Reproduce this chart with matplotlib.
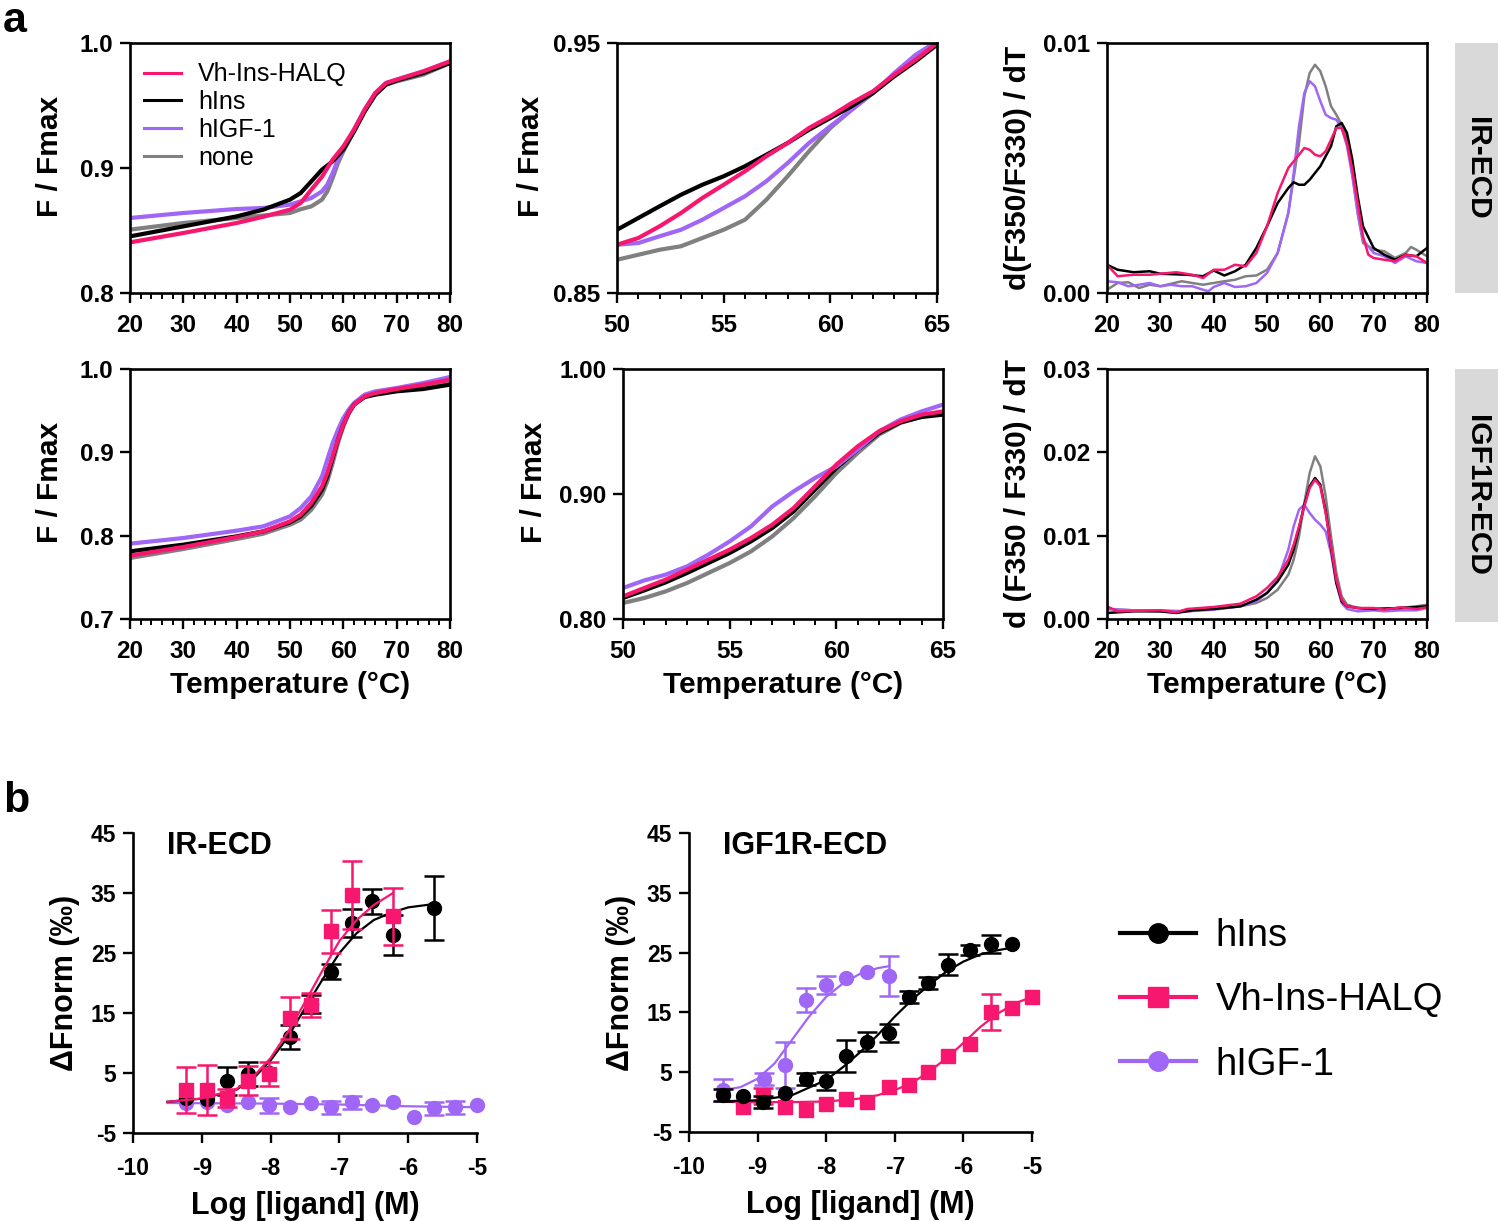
import matplotlib
matplotlib.use('Agg')
import matplotlib.pyplot as plt
from matplotlib.lines import Line2D
from matplotlib.patches import Rectangle
from matplotlib.ticker import MultipleLocator, FixedLocator, FormatStrFormatter

plt.rcParams['font.family'] = ['Liberation Sans', 'DejaVu Sans']
plt.rcParams['font.weight'] = 'bold'
plt.rcParams['axes.labelweight'] = 'bold'
plt.rcParams['axes.unicode_minus'] = False

PINK = '#F8176E'
PURPLE = '#A066F6'
GRAY = '#808080'
BLACK = '#000000'

# ---------------- panel a, IR-ECD, full melt (20-80 C) ----------------
ir_full_T = [20, 30, 40, 45, 50, 52, 54, 56, 57, 58, 59, 60, 62, 64, 66, 68, 70, 75, 80]
ir_full_halq = [0.8405, 0.848, 0.856, 0.861, 0.8667, 0.872, 0.8827, 0.893, 0.900, 0.9067, 0.912, 0.9173, 0.9307, 0.9467, 0.960, 0.968, 0.9707, 0.9773, 0.9853]
ir_full_hins = [0.8453, 0.8533, 0.8613, 0.8667, 0.8747, 0.880, 0.8893, 0.8987, 0.902, 0.9053, 0.910, 0.9147, 0.9293, 0.9453, 0.9587, 0.9667, 0.970, 0.976, 0.984]
ir_full_igf = [0.860, 0.864, 0.8672, 0.868, 0.8707, 0.8733, 0.876, 0.8813, 0.8867, 0.896, 0.9067, 0.9147, 0.9307, 0.9467, 0.960, 0.968, 0.9707, 0.9773, 0.9853]
ir_full_none = [0.8507, 0.856, 0.860, 0.862, 0.864, 0.8670, 0.8693, 0.8747, 0.8813, 0.892, 0.904, 0.9133, 0.9293, 0.9453, 0.9587, 0.9667, 0.9693, 0.9747, 0.984]

# ---------------- panel a, IR-ECD, zoom (50-65 C) ----------------
ir_zoom_T = [50, 51, 52, 53, 54, 55, 56, 57, 58, 59, 60, 61, 62, 63, 64, 65]
ir_zoom_hins = [0.8753, 0.880, 0.8847, 0.8893, 0.8933, 0.8967, 0.9007, 0.9053, 0.910, 0.9153, 0.920, 0.9247, 0.930, 0.9367, 0.9427, 0.9493]
ir_zoom_halq = [0.8693, 0.872, 0.8767, 0.882, 0.888, 0.8933, 0.8987, 0.9047, 0.910, 0.916, 0.9207, 0.926, 0.9307, 0.9373, 0.9433, 0.950]
ir_zoom_igf = [0.8693, 0.870, 0.8727, 0.8753, 0.8793, 0.884, 0.8887, 0.8947, 0.902, 0.910, 0.9167, 0.9233, 0.930, 0.938, 0.9453, 0.9507]
ir_zoom_none = [0.8633, 0.8653, 0.8673, 0.8687, 0.872, 0.8753, 0.8793, 0.8873, 0.8967, 0.9067, 0.916, 0.9233, 0.930, 0.9373, 0.944, 0.9493]

# ---------------- panel a, IR-ECD, first derivative ----------------
ir_d_T_halq = [20, 22, 25, 28, 30, 33, 36, 38, 40, 42, 44, 46, 48, 50, 52, 54, 56, 57, 58, 59, 60, 61, 62, 63, 64, 65, 66, 67, 68, 69, 70, 72, 74, 76, 78, 80]
ir_d_halq = [0.00113, 0.00067, 0.00073, 0.00073, 0.00077, 0.00083, 0.00073, 0.0006, 0.00093, 0.00093, 0.00113, 0.00107, 0.0016, 0.00267, 0.0040, 0.0050, 0.00553, 0.0058, 0.00573, 0.00553, 0.00547, 0.00567, 0.00613, 0.0066, 0.0066, 0.0060, 0.00493, 0.0036, 0.00227, 0.00153, 0.0014, 0.00133, 0.00127, 0.00153, 0.00147, 0.0012]
ir_d_T_hins = [20, 22, 25, 28, 30, 35, 38, 40, 42, 44, 46, 48, 50, 52, 54, 55, 56, 57, 58, 60, 62, 63, 64, 65, 66, 67, 68, 70, 72, 74, 76, 78, 80]
ir_d_hins = [0.00113, 0.00093, 0.00083, 0.00087, 0.00077, 0.00073, 0.00067, 0.0009, 0.0007, 0.00087, 0.00113, 0.0018, 0.00267, 0.0036, 0.0042, 0.00443, 0.00433, 0.00433, 0.00453, 0.00507, 0.00587, 0.00667, 0.0068, 0.0064, 0.00533, 0.00387, 0.00267, 0.0018, 0.00153, 0.00133, 0.00153, 0.00147, 0.0018]
ir_d_T_none = [20, 22, 24, 26, 28, 30, 32, 34, 36, 38, 40, 42, 44, 46, 48, 50, 52, 54, 56, 57, 58, 59, 60, 61, 62, 63, 64, 65, 66, 67, 68, 70, 72, 74, 76, 77, 78, 80]
ir_d_none = [0.00013, 0.0004, 0.00043, 0.0002, 0.00033, 0.00027, 0.00037, 0.00047, 0.0004, 0.00033, 0.0004, 0.00047, 0.00053, 0.00067, 0.0007, 0.00093, 0.0016, 0.0032, 0.0060, 0.00787, 0.0088, 0.00913, 0.00887, 0.00827, 0.00747, 0.00713, 0.00673, 0.00613, 0.0048, 0.0032, 0.0020, 0.00173, 0.00167, 0.0014, 0.0016, 0.00184, 0.00173, 0.00147]
ir_d_T_igf = [20, 22, 24, 26, 28, 30, 32, 34, 36, 38, 39, 40, 42, 44, 46, 48, 50, 52, 54, 55, 56, 57, 58, 59, 60, 61, 62, 63, 64, 65, 66, 67, 68, 70, 72, 74, 76, 78, 80]
ir_d_igf = [0.00047, 0.00043, 0.00027, 0.00033, 0.0004, 0.00027, 0.00033, 0.00027, 0.00027, 0.00013, 0.00007, 0.00024, 0.0004, 0.00024, 0.00027, 0.0004, 0.0008, 0.0016, 0.0032, 0.0048, 0.00667, 0.0080, 0.00847, 0.00827, 0.00767, 0.00713, 0.0070, 0.00693, 0.0066, 0.00587, 0.00467, 0.0032, 0.00213, 0.0016, 0.00147, 0.0012, 0.00147, 0.00127, 0.0012]

# ---------------- panel a, IGF1R-ECD, full melt ----------------
igf_full_T = [20, 30, 40, 45, 50, 52, 54, 56, 57, 58, 59, 60, 61, 62, 64, 66, 70, 75, 80]
igf_full_igf = [0.7904, 0.7972, 0.806, 0.8112, 0.8232, 0.8332, 0.8472, 0.8712, 0.8912, 0.9112, 0.9272, 0.9412, 0.9512, 0.9592, 0.9692, 0.9732, 0.9772, 0.9832, 0.9904]
igf_full_halq = [0.776, 0.7864, 0.7984, 0.8052, 0.8172, 0.8252, 0.8392, 0.8592, 0.8752, 0.8952, 0.9152, 0.9332, 0.9472, 0.9572, 0.9672, 0.9712, 0.976, 0.9812, 0.9872]
igf_full_hins = [0.7812, 0.7892, 0.7992, 0.8052, 0.816, 0.8232, 0.836, 0.8552, 0.8712, 0.8932, 0.9152, 0.9332, 0.9472, 0.9572, 0.9664, 0.9692, 0.9732, 0.976, 0.9812]
igf_full_none = [0.7732, 0.784, 0.796, 0.8024, 0.8132, 0.8192, 0.8312, 0.8492, 0.8652, 0.8872, 0.9112, 0.9312, 0.9464, 0.9572, 0.9672, 0.9704, 0.9752, 0.980, 0.9852]

# ---------------- panel a, IGF1R-ECD, zoom ----------------
igf_zoom_T = [50, 51, 52, 53, 54, 55, 56, 57, 58, 59, 60, 61, 62, 63, 64, 65]
igf_zoom_igf = [0.8248, 0.8309, 0.8355, 0.8421, 0.8515, 0.8621, 0.8741, 0.8901, 0.9021, 0.9128, 0.9221, 0.9355, 0.9501, 0.9595, 0.9661, 0.9715]
igf_zoom_halq = [0.8181, 0.8248, 0.8315, 0.8395, 0.8475, 0.8555, 0.8648, 0.8755, 0.8888, 0.9061, 0.9235, 0.9381, 0.9501, 0.9581, 0.9635, 0.9661]
igf_zoom_hins = [0.8168, 0.8229, 0.8293, 0.8368, 0.8448, 0.8528, 0.8621, 0.8728, 0.8861, 0.9035, 0.9208, 0.9355, 0.9488, 0.9573, 0.9616, 0.9635]
igf_zoom_none = [0.8128, 0.8168, 0.8221, 0.8288, 0.8368, 0.8448, 0.8541, 0.8661, 0.8808, 0.8981, 0.9168, 0.9328, 0.9475, 0.9568, 0.9621, 0.9648]

# ---------------- panel a, IGF1R-ECD, first derivative ----------------
igf_d_T_halq = [20, 22, 30, 33, 35, 40, 45, 48, 50, 52, 54, 55, 56, 57, 58, 59, 60, 61, 62, 63, 64, 65, 67, 70, 72, 75, 78, 80]
igf_d_halq = [0.00152, 0.00092, 0.00104, 0.0008, 0.0012, 0.00144, 0.00184, 0.00272, 0.00372, 0.00504, 0.00712, 0.00892, 0.01112, 0.01352, 0.01572, 0.01672, 0.01592, 0.01272, 0.00872, 0.00472, 0.00232, 0.00152, 0.00132, 0.00132, 0.00112, 0.0014, 0.0012, 0.0014]
igf_d_T_hins = [20, 25, 30, 33, 36, 40, 45, 48, 50, 52, 54, 55, 56, 57, 58, 59, 60, 61, 62, 63, 64, 65, 67, 70, 75, 80]
igf_d_hins = [0.00072, 0.00092, 0.00092, 0.00072, 0.00104, 0.0012, 0.00152, 0.00232, 0.00312, 0.00452, 0.00652, 0.00832, 0.01092, 0.01372, 0.01592, 0.01692, 0.01612, 0.01292, 0.00852, 0.00432, 0.00212, 0.00152, 0.00132, 0.0012, 0.00132, 0.00152]
igf_d_T_none = [20, 25, 30, 35, 40, 45, 48, 50, 52, 54, 55, 56, 57, 58, 59, 60, 61, 62, 63, 64, 65, 67, 70, 75, 78, 80]
igf_d_none = [0.0012, 0.00104, 0.00104, 0.00092, 0.0012, 0.00152, 0.00192, 0.00252, 0.00352, 0.00532, 0.00712, 0.00992, 0.01392, 0.01752, 0.01952, 0.01832, 0.01472, 0.00992, 0.00552, 0.00272, 0.00172, 0.00132, 0.0012, 0.00132, 0.00152, 0.00172]
igf_d_T_igf = [20, 25, 30, 35, 40, 45, 48, 50, 52, 54, 55, 56, 57, 58, 59, 60, 61, 62, 63, 64, 65, 67, 70, 72, 75, 78, 80]
igf_d_igf = [0.0012, 0.00104, 0.00092, 0.00092, 0.00112, 0.00152, 0.00212, 0.00312, 0.00472, 0.00832, 0.01112, 0.01312, 0.01372, 0.01272, 0.01192, 0.01132, 0.01052, 0.00792, 0.00432, 0.00192, 0.0012, 0.00092, 0.00104, 0.00092, 0.00104, 0.00104, 0.00132]

# ---------------- panel b, IR-ECD (MST) ----------------
b_ir_hins_x = [-9.23, -8.93, -8.63, -8.33, -8.02, -7.72, -7.42, -7.12, -6.82, -6.52, -6.22, -5.62]
b_ir_hins_y = [0.8, 0.7, 3.7, 4.9, 5.0, 11.0, 16.5, 21.9, 30.0, 33.6, 28.0, 32.5]
b_ir_hins_e = [0.0, 0.0, 2.3, 2.0, 0.0, 2.0, 1.5, 1.2, 2.3, 2.1, 3.3, 5.3]
b_ir_halq_x = [-9.23, -8.93, -8.63, -8.33, -8.02, -7.72, -7.42, -7.12, -6.82, -6.22]
b_ir_halq_y = [2.2, 2.2, 0.9, 3.7, 4.9, 14.1, 16.3, 28.6, 34.7, 31.1]
b_ir_halq_e = [3.8, 4.2, 1.5, 2.4, 2.0, 3.5, 2.0, 3.6, 5.7, 4.7]
b_ir_igf_x = [-9.23, -8.93, -8.63, -8.33, -8.02, -7.72, -7.42, -7.12, -6.82, -6.52, -6.22, -5.92, -5.62, -5.32, -5.0]
b_ir_igf_y = [0.0, 0.2, -0.4, 0.1, -0.4, -0.7, 0.0, -0.7, 0.1, -0.3, 0.2, -2.3, -0.9, -0.7, -0.4]
b_ir_igf_e = [0.0, 0.0, 0.0, 0.0, 1.3, 0.0, 0.0, 1.1, 1.1, 0.0, 0.0, 0.0, 1.1, 1.1, 0.0]
fit_ir_hins_x = [-9.5, -9.0, -8.5, -8.25, -8.0, -7.75, -7.5, -7.25, -7.0, -6.75, -6.5, -6.25, -6.0, -5.6]
fit_ir_hins_y = [0.2, 0.73, 2.2, 4.1, 7.1, 11.0, 15.8, 20.5, 25.0, 28.3, 30.5, 31.7, 32.6, 33.2]
fit_ir_halq_x = [-9.5, -9.0, -8.5, -8.25, -8.0, -7.75, -7.5, -7.25, -7.0, -6.75, -6.5, -6.22]
fit_ir_halq_y = [0.2, 0.75, 2.3, 4.4, 7.5, 11.8, 16.8, 22.0, 27.0, 30.5, 33.0, 35.0]
fit_ir_igf_x = [-9.5, -8.0, -7.0, -6.0, -5.0]
fit_ir_igf_y = [0.0, -0.1, -0.25, -0.55, -0.7]

# ---------------- panel b, IGF1R-ECD (MST) ----------------
b_igf_hins_x = [-9.51, -9.22, -8.92, -8.60, -8.30, -8.01, -7.71, -7.41, -7.09, -6.80, -6.51, -6.22, -5.91, -5.60, -5.29]
b_igf_hins_y = [1.15, 1.0, 0.03, 1.54, 3.94, 3.55, 7.68, 10.1, 11.5, 17.5, 19.9, 23.0, 25.4, 26.5, 26.5]
b_igf_hins_e = [1.0, 0.0, 1.0, 0.0, 1.0, 1.5, 2.7, 1.6, 1.5, 1.0, 1.0, 1.8, 0.8, 1.5, 0.0]
b_igf_halq_x = [-9.22, -8.92, -8.60, -8.30, -8.01, -7.71, -7.41, -7.09, -6.80, -6.51, -6.22, -5.91, -5.60, -5.29, -5.0]
b_igf_halq_y = [-0.81, 1.0, -0.8, -1.3, -0.25, 0.59, 0.03, 2.54, 2.93, 5.06, 7.68, 9.64, 15.1, 15.8, 17.5]
b_igf_halq_e = [0.0, 1.3, 0.0, 0.0, 0.0, 0.0, 0.0, 0.0, 0.0, 0.0, 0.0, 0.0, 3.0, 0.0, 0.0]
b_igf_igf_x = [-9.51, -8.91, -8.60, -8.30, -8.01, -7.71, -7.41, -7.09]
b_igf_igf_y = [2.0, 3.94, 6.2, 17.1, 19.6, 20.7, 21.8, 21.1]
b_igf_igf_e = [1.8, 1.0, 3.9, 2.0, 1.5, 0.0, 0.0, 3.4]
fit_igf_hins_x = [-9.5, -9.0, -8.5, -8.0, -7.75, -7.5, -7.25, -7.0, -6.75, -6.5, -6.25, -6.0, -5.75, -5.5, -5.3]
fit_igf_hins_y = [0.14, 0.3, 1.15, 3.7, 5.9, 8.4, 11.2, 14.3, 17.1, 19.6, 21.8, 23.5, 24.7, 25.4, 25.8]
fit_igf_halq_x = [-9.5, -8.5, -8.0, -7.5, -7.25, -7.0, -6.75, -6.5, -6.25, -6.0, -5.75, -5.5, -5.25, -5.0]
fit_igf_halq_y = [0.03, 0.0, 0.1, 0.6, 1.15, 2.0, 3.2, 5.1, 7.3, 9.9, 12.6, 14.8, 16.5, 17.6]
fit_igf_igf_x = [-9.5, -9.25, -9.0, -8.75, -8.5, -8.25, -8.0, -7.75, -7.5, -7.25, -7.1]
fit_igf_igf_y = [2.0, 2.5, 3.9, 6.5, 10.4, 14.3, 17.6, 19.9, 21.5, 22.4, 22.7]

# ======================================================================
W, H = 1500, 1221
fig = plt.figure(figsize=(W / 100, H / 100), dpi=100)


def rect(x0, y0, x1, y1):
    return [x0 / W, 1 - y1 / H, (x1 - x0) / W, (y1 - y0) / H]


TICK_FS = 17.5
LAB_FS = 21.5


def style_top(ax, xmaj, xmin_, yticks, yfmt):
    for s in ax.spines.values():
        s.set_linewidth(1.9)
    ax.xaxis.set_major_locator(MultipleLocator(xmaj))
    ax.xaxis.set_minor_locator(MultipleLocator(xmin_))
    ax.yaxis.set_major_locator(FixedLocator(yticks))
    ax.yaxis.set_major_formatter(FormatStrFormatter(yfmt))
    ax.tick_params(which='major', direction='out', length=7, width=1.7,
                   labelsize=TICK_FS, pad=5)
    ax.tick_params(axis='x', which='major', pad=8)
    ax.tick_params(which='minor', direction='out', length=4, width=1.4)
    ax.tick_params(axis='y', which='minor', left=False)


def fmax_label(ax, xfrac):
    ax.set_ylabel('F / Fmax', fontsize=LAB_FS)
    ax.yaxis.set_label_coords(xfrac, 0.548)


LW = 3.0

# Panel 1
ax1 = fig.add_axes(rect(130, 43, 450, 293))
ax1.plot(ir_full_T, ir_full_none, color=GRAY, lw=LW, label='none')
ax1.plot(ir_full_T, ir_full_igf, color=PURPLE, lw=LW, label='hIGF-1')
ax1.plot(ir_full_T, ir_full_hins, color=BLACK, lw=LW, label='hIns')
ax1.plot(ir_full_T, ir_full_halq, color=PINK, lw=LW, label='Vh-Ins-HALQ')
ax1.set_xlim(20, 80)
ax1.set_ylim(0.8, 1.0)
style_top(ax1, 10, 2, [0.8, 0.9, 1.0], '%.1f')
fmax_label(ax1, -0.205)
h, l = ax1.get_legend_handles_labels()
order = [3, 2, 1, 0]
leg1 = ax1.legend([h[i] for i in order], [l[i] for i in order], loc='upper left',
                  bbox_to_anchor=(0.045, 0.922), frameon=False,
                  prop={'weight': 'normal', 'size': 18}, handlelength=1.45,
                  handletextpad=0.7, labelspacing=0.15, borderaxespad=0, borderpad=0)
for ln in leg1.get_lines():
    ln.set_linewidth(2.2)

# Panel 2
ax2 = fig.add_axes(rect(617, 43, 937, 293))
ax2.plot(ir_zoom_T, ir_zoom_none, color=GRAY, lw=LW)
ax2.plot(ir_zoom_T, ir_zoom_igf, color=PURPLE, lw=LW)
ax2.plot(ir_zoom_T, ir_zoom_hins, color=BLACK, lw=LW)
ax2.plot(ir_zoom_T, ir_zoom_halq, color=PINK, lw=LW)
ax2.set_xlim(50, 65)
ax2.set_ylim(0.85, 0.95)
style_top(ax2, 5, 1, [0.85, 0.95], '%.2f')
fmax_label(ax2, -0.225)

# Panel 3
DLW = 1.8
ax3 = fig.add_axes(rect(1107, 43, 1427, 293))
ax3.plot(ir_d_T_none, ir_d_none, color=GRAY, lw=DLW)
ax3.plot(ir_d_T_igf, ir_d_igf, color=PURPLE, lw=DLW)
ax3.plot(ir_d_T_hins, ir_d_hins, color=BLACK, lw=DLW)
ax3.plot(ir_d_T_halq, ir_d_halq, color=PINK, lw=DLW)
ax3.set_xlim(20, 80)
ax3.set_ylim(0, 0.01)
style_top(ax3, 10, 2, [0.0, 0.01], '%.2f')
ax3.set_ylabel('d(F350/F330) / dT', fontsize=LAB_FS, labelpad=8)

# Panel 4
ax4 = fig.add_axes(rect(130, 369, 450, 619))
ax4.plot(igf_full_T, igf_full_none, color=GRAY, lw=LW)
ax4.plot(igf_full_T, igf_full_igf, color=PURPLE, lw=LW)
ax4.plot(igf_full_T, igf_full_hins, color=BLACK, lw=LW)
ax4.plot(igf_full_T, igf_full_halq, color=PINK, lw=LW)
ax4.set_xlim(20, 80)
ax4.set_ylim(0.7, 1.0)
style_top(ax4, 10, 2, [0.7, 0.8, 0.9, 1.0], '%.1f')
fmax_label(ax4, -0.205)
ax4.set_xlabel('Temperature (°C)', fontsize=LAB_FS, labelpad=6)

# Panel 5
ax5 = fig.add_axes(rect(623, 369, 943, 619))
ax5.plot(igf_zoom_T, igf_zoom_none, color=GRAY, lw=LW)
ax5.plot(igf_zoom_T, igf_zoom_hins, color=BLACK, lw=LW)
ax5.plot(igf_zoom_T, igf_zoom_igf, color=PURPLE, lw=LW)
ax5.plot(igf_zoom_T, igf_zoom_halq, color=PINK, lw=LW)
ax5.set_xlim(50, 65)
ax5.set_ylim(0.8, 1.0)
style_top(ax5, 5, 1, [0.8, 0.9, 1.0], '%.2f')
fmax_label(ax5, -0.234)
ax5.set_xlabel('Temperature (°C)', fontsize=LAB_FS, labelpad=6)

# Panel 6
ax6 = fig.add_axes(rect(1107, 369, 1427, 619))
ax6.plot(igf_d_T_none, igf_d_none, color=GRAY, lw=DLW)
ax6.plot(igf_d_T_igf, igf_d_igf, color=PURPLE, lw=DLW)
ax6.plot(igf_d_T_hins, igf_d_hins, color=BLACK, lw=DLW)
ax6.plot(igf_d_T_halq, igf_d_halq, color=PINK, lw=DLW)
ax6.set_xlim(20, 80)
ax6.set_ylim(0, 0.03)
style_top(ax6, 10, 2, [0.0, 0.01, 0.02, 0.03], '%.2f')
ax6.set_ylabel('d (F350 / F330) / dT', fontsize=LAB_FS, labelpad=8)
ax6.set_xlabel('Temperature (°C)', fontsize=LAB_FS, labelpad=6)

# Side labels
for (y0, y1, txt) in [(43, 293, 'IR-ECD'), (369, 622, 'IGF1R-ECD')]:
    fig.patches.append(Rectangle((1455 / W, 1 - y1 / H), 43 / W, (y1 - y0) / H,
                                 transform=fig.transFigure, facecolor='#D9D9D9',
                                 edgecolor='none'))
    fig.text(1477 / W, 1 - (y0 + y1) / 2 / H, txt, rotation=-90, ha='center',
             va='center', fontsize=21.5, fontweight='bold')

# Panel letters
fig.text(0.002, 0.999, 'a', fontsize=31, fontweight='bold', va='top', ha='left')
fig.text(0.002, 1 - 781 / H, 'b', fontsize=31, fontweight='bold', va='top', ha='left')

# ---------------- panel b ----------------
MS = 10
CAP = 7
B_TICK_FS = 16.5


def style_b(ax):
    ax.spines['top'].set_visible(False)
    ax.spines['right'].set_visible(False)
    for s in ['left', 'bottom']:
        ax.spines[s].set_linewidth(1.9)
    ax.set_xlim(-10, -5)
    ax.set_ylim(-5, 45)
    ax.xaxis.set_major_locator(MultipleLocator(1))
    ax.yaxis.set_major_locator(FixedLocator([-5, 5, 15, 25, 35, 45]))
    ax.tick_params(direction='out', length=7, width=1.7, labelsize=B_TICK_FS, pad=5)
    ax.tick_params(axis='x', pad=10)
    ax.set_xlabel('Log [ligand] (M)', fontsize=22, labelpad=8)
    ax.set_ylabel('ΔFnorm (‰)', fontsize=22, labelpad=8)


def series(ax, x, y, e, color, marker):
    xe = [xi for xi, ei in zip(x, e) if ei > 0]
    ye = [yi for yi, ei in zip(y, e) if ei > 0]
    ee = [ei for ei in e if ei > 0]
    if xe:
        ax.errorbar(xe, ye, yerr=ee, fmt='none', ecolor=color, elinewidth=1.8,
                    capsize=CAP, capthick=1.8, clip_on=False)
    ax.plot(x, y, linestyle='none', marker=marker, color=color, ms=MS,
            clip_on=False)


ax7 = fig.add_axes(rect(133, 833, 477, 1133))
style_b(ax7)
ax7.plot(fit_ir_igf_x, fit_ir_igf_y, color=PURPLE, lw=1.6)
series(ax7, b_ir_igf_x, b_ir_igf_y, b_ir_igf_e, PURPLE, 'o')
ax7.plot(fit_ir_hins_x, fit_ir_hins_y, color=BLACK, lw=1.6)
series(ax7, b_ir_hins_x, b_ir_hins_y, b_ir_hins_e, BLACK, 'o')
ax7.plot(fit_ir_halq_x, fit_ir_halq_y, color=PINK, lw=1.6)
series(ax7, b_ir_halq_x, b_ir_halq_y, b_ir_halq_e, PINK, 's')
ax7.text(0.1, 0.955, 'IR-ECD', transform=ax7.transAxes, fontsize=22,
         fontweight='bold', va='center', ha='left')

ax8 = fig.add_axes(rect(689, 833, 1032, 1132))
style_b(ax8)
ax8.plot(fit_igf_igf_x, fit_igf_igf_y, color=PURPLE, lw=1.6)
series(ax8, b_igf_igf_x, b_igf_igf_y, b_igf_igf_e, PURPLE, 'o')
ax8.plot(fit_igf_halq_x, fit_igf_halq_y, color=PINK, lw=1.6)
series(ax8, b_igf_halq_x, b_igf_halq_y, b_igf_halq_e, PINK, 's')
ax8.plot(fit_igf_hins_x, fit_igf_hins_y, color=BLACK, lw=1.6)
series(ax8, b_igf_hins_x, b_igf_hins_y, b_igf_hins_e, BLACK, 'o')
ax8.text(0.1, 0.955, 'IGF1R-ECD', transform=ax8.transAxes, fontsize=22,
         fontweight='bold', va='center', ha='left')

# legend for panel b
leg_handles = [Line2D([], [], color=BLACK, marker='o', ms=14, lw=3),
               Line2D([], [], color=PINK, marker='s', ms=14, lw=3),
               Line2D([], [], color=PURPLE, marker='o', ms=14, lw=3)]
fig.legend(leg_handles, ['hIns', 'Vh-Ins-HALQ', 'hIGF-1'], loc='upper left',
           bbox_to_anchor=(1120 / W, 1 - 918 / H), frameon=False,
           prop={'weight': 'normal', 'size': 27.5}, handlelength=2.0,
           handletextpad=0.5, labelspacing=0.74, borderaxespad=0, borderpad=0)

fig.savefig('out.png', dpi=100)
